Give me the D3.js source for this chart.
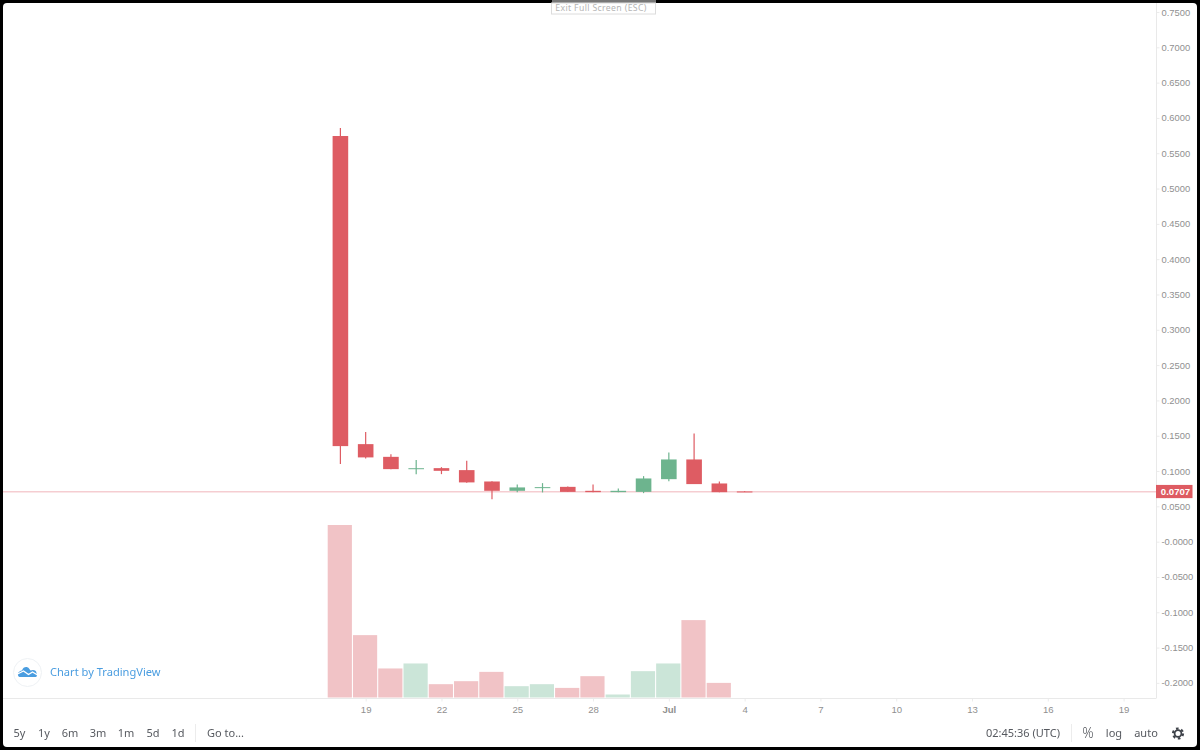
<!DOCTYPE html>
<html>
<head>
<meta charset="utf-8">
<script src="https://cdn.jsdelivr.net/npm/d3@7"></script>
<style>
html,body{margin:0;padding:0;background:#000;overflow:hidden}
svg{display:block}
.px text{font-family:"Liberation Sans",Arial,sans-serif;font-size:9.4px;fill:#909090;text-anchor:start}
.tx text{font-family:"Liberation Sans",Arial,sans-serif;font-size:9.6px;fill:#909090}
.tb{font-family:"Noto Sans",sans-serif;font-size:11px;fill:#55585e}
g,text{opacity:.995}
</style>
</head>
<body>
<div id="chart"></div>
<script>
// daily candles
var days = ['2019-06-18','2019-06-19','2019-06-20','2019-06-21','2019-06-22','2019-06-23','2019-06-24','2019-06-25','2019-06-26','2019-06-27','2019-06-28','2019-06-29','2019-06-30','2019-07-01','2019-07-02','2019-07-03','2019-07-04']
var opens  = [.5744,.1381,.1201,.1030,.1041,.1013,.0852,.0720,.0765,.0776,.0720,.0701,.0705,.0885,.1164,.0824,.0711]
var highs  = [.5857,.1551,.1239,.1155,.1055,.1145,.0857,.0810,.0829,.0780,.0810,.0753,.0928,.1264,.1532,.0852,.0716]
var lows   = [.1098,.1178,.1027,.0956,.0956,.0835,.0602,.0701,.0697,.0705,.0700,.0701,.0687,.0857,.0815,.0701,.0707]
var closes = [.1353,.1193,.1027,.1040,.1003,.0839,.0720,.0768,.0772,.0705,.0701,.0720,.0895,.1164,.0815,.0701,.0707]
var volumes = [172.3,62.3,29,34,13.3,16.3,25.6,11.3,13.3,9.6,21.3,3,26.3,34,77.3,14.6]

var lastPrice = 0.0707
var priceTicks = [.75,.7,.65,.6,.55,.5,.45,.4,.35,.3,.25,.2,.15,.1,.05,0,-.05,-.1,-.15,-.2]
var priceLabels = ['0.7500','0.7000','0.6500','0.6000','0.5500','0.5000','0.4500','0.4000','0.3500','0.3000','0.2500','0.2000','0.1500','0.1000','0.0500','-0.0000','-0.0500','-0.1000','-0.1500','-0.2000']
var timeTicks = ['2019-06-19','2019-06-22','2019-06-25','2019-06-28','2019-07-01','2019-07-04','2019-07-07','2019-07-10','2019-07-13','2019-07-16','2019-07-19']
var timeLabels = ['19','22','25','28','Jul','4','7','10','13','16','19']
var ranges = ['5y','1y','6m','3m','1m','5d','1d']
var rangeX = [19.5,44,70,98,126,153,178]

var UP = '#6cb48e', DOWN = '#de5b62', UP_VOL = '#cbe5d8', DOWN_VOL = '#f1c3c6'

var width = 1200, height = 750
var svg = d3.select('#chart').append('svg').attr('width', width).attr('height', height)

// window frame
svg.append('rect').attr('width', width).attr('height', height).attr('fill', '#000')
svg.append('rect').attr('x', 3).attr('y', 3).attr('width', 1194).attr('height', 744).attr('rx', 4).attr('fill', '#fff')

var parse = d3.utcParse('%Y-%m-%d')
var x = d3.scaleUtc().domain([parse('2019-06-18'), parse('2019-07-19')]).range([340.4, 1123.6])
var y = d3.scaleLinear().domain([.75, -.2]).range([12, 682.9])
var v = d3.scaleLinear().domain([0, 172.3]).range([697.5, 525])

var idx = d3.range(days.length)
var isUp = function(i){ return closes[i] >= opens[i] }

// price line
svg.append('line').attr('x1', 3).attr('x2', 1156).attr('y1', y(lastPrice)).attr('y2', y(lastPrice))
  .attr('stroke', '#f5cdd1').attr('stroke-width', 1.6)

// volume
svg.append('g').selectAll('rect').data(volumes).enter().append('rect')
  .attr('x', function(d, i){ return x(parse(days[i])) - 12.7 })
  .attr('width', 24.2)
  .attr('y', function(d){ return v(d) })
  .attr('height', function(d){ return v(0) - v(d) })
  .attr('fill', function(d, i){ return isUp(i) ? UP_VOL : DOWN_VOL })

// candles
var candles = svg.append('g').selectAll('g').data(idx).enter().append('g')
candles.append('line')
  .attr('x1', function(i){ return x(parse(days[i])) })
  .attr('x2', function(i){ return x(parse(days[i])) })
  .attr('y1', function(i){ return y(highs[i]) })
  .attr('y2', function(i){ return y(lows[i]) })
  .attr('stroke', function(i){ return isUp(i) ? UP : DOWN })
  .attr('stroke-width', 1.2)
candles.append('rect')
  .attr('x', function(i){ return x(parse(days[i])) - 7.8 })
  .attr('width', 15.6)
  .attr('y', function(i){ return y(Math.max(opens[i], closes[i])) })
  .attr('height', function(i){ return Math.max(1, Math.abs(y(opens[i]) - y(closes[i]))) })
  .attr('fill', function(i){ return isUp(i) ? UP : DOWN })

// price axis
var axisY = d3.axisRight(y).tickValues(priceTicks).tickSize(3).tickPadding(2)
  .tickFormat(function(d, i){ return priceLabels[i] })
var gy = svg.append('g').attr('class', 'px').attr('transform', 'translate(1156.5,0)').call(axisY)
gy.select('.domain').remove()
gy.selectAll('line').attr('stroke', '#ececec')
svg.append('line').attr('x1', 1156.5).attr('x2', 1156.5).attr('y1', 3).attr('y2', 698).attr('stroke', '#e9e9e9')

// time axis
var axisX = d3.axisBottom(x).tickValues(timeTicks.map(parse)).tickSize(3).tickPadding(5)
  .tickFormat(function(d, i){ return timeLabels[i] })
var gx = svg.append('g').attr('class', 'tx').attr('transform', 'translate(0,698.5)').call(axisX)
gx.select('.domain').remove()
gx.selectAll('line').attr('stroke', '#ececec')
gx.selectAll('text').style('font-weight', function(d, i){ return timeLabels[i] == 'Jul' ? 'bold' : null })
svg.append('line').attr('x1', 3).attr('x2', 1156.5).attr('y1', 698.5).attr('y2', 698.5).attr('stroke', '#e9e9e9')

// last price label
svg.append('rect').attr('x', 1156).attr('y', y(lastPrice) - 6.8).attr('width', 36.5).attr('height', 13.2).attr('fill', DOWN)
svg.append('text').attr('x', 1175.5).attr('y', y(lastPrice) + 3.4).attr('text-anchor', 'middle')
  .attr('font-family', '"Liberation Sans",Arial,sans-serif').attr('font-size', 9.6).attr('font-weight', 'bold')
  .attr('fill', '#fff').text(lastPrice.toFixed(4))

// full screen hint
svg.append('rect').attr('x', 552).attr('y', 0).attr('width', 104).attr('height', 3).attr('fill', '#777')
svg.append('rect').attr('x', 551.5).attr('y', 3).attr('width', 104).attr('height', 11).attr('fill', '#fff').attr('stroke', '#dcdcdc')
svg.append('text').attr('x', 601).attr('y', 10.5).attr('text-anchor', 'middle').attr('font-family', '"Noto Sans",sans-serif')
  .attr('font-size', 8.7).attr('letter-spacing', .35).attr('fill', '#b5b5b5').text('Exit Full Screen (ESC)')

// watermark
svg.append('circle').attr('cx', 27.5).attr('cy', 672.5).attr('r', 14).attr('fill', '#fff').attr('stroke', '#eef1f4')
svg.append('path').attr('transform', 'translate(27.5,672)').attr('fill', '#4a9de0')
  .attr('d', 'M-9.5,3 C-10,0 -7,-1.5 -5.5,-1.5 C-4.5,-5.5 0,-6 1.5,-3.5 L3,-1.5 C6,-3 9,-1.5 9,1 C10,3 9.5,5 8,5 L-7,5 C-8.5,5 -9.5,4.5 -9.5,3 Z')
svg.append('path').attr('transform', 'translate(27.5,672)').attr('fill', 'none').attr('stroke', '#fff').attr('stroke-width', 1.3)
  .attr('d', 'M-10,2 L-4,-1 L1,2.5 L5,0 L10,3')
svg.append('text').attr('x', 50).attr('y', 676).attr('font-family', '"Noto Sans",sans-serif').attr('font-size', 11.1)
  .attr('fill', '#4a9de0').text('Chart by TradingView')

// bottom toolbar
var tb = svg.append('g').attr('class', 'tb')
tb.selectAll('text').data(ranges).enter().append('text')
  .attr('x', function(d, i){ return rangeX[i] }).attr('y', 737).attr('text-anchor', 'middle').text(function(d){ return d })
tb.append('text').attr('x', 207).attr('y', 737).text('Go to...')
tb.append('text').attr('x', 1060).attr('y', 737).attr('text-anchor', 'end').text('02:45:36 (UTC)')
tb.append('text').attr('x', 1088).attr('y', 738).attr('text-anchor', 'middle').attr('font-size', 14).attr('font-weight', 300).text('%')
tb.append('text').attr('x', 1114).attr('y', 737).attr('text-anchor', 'middle').text('log')
tb.append('text').attr('x', 1146).attr('y', 737).attr('text-anchor', 'middle').text('auto')
svg.selectAll('.sep').data([195, 1071]).enter().append('line')
  .attr('x1', function(d){ return d + .5 }).attr('x2', function(d){ return d + .5 })
  .attr('y1', 724).attr('y2', 742).attr('stroke', '#ececec')

// gear
var gear = svg.append('g').attr('transform', 'translate(1178,733.5)')
gear.append('circle').attr('r', 3.4).attr('fill', 'none').attr('stroke', '#3f434a').attr('stroke-width', 1.8)
gear.append('circle').attr('r', 5).attr('fill', 'none').attr('stroke', '#3f434a').attr('stroke-width', 2.2)
  .attr('stroke-dasharray', '2.6 2.64')
</script>
</body>
</html>
